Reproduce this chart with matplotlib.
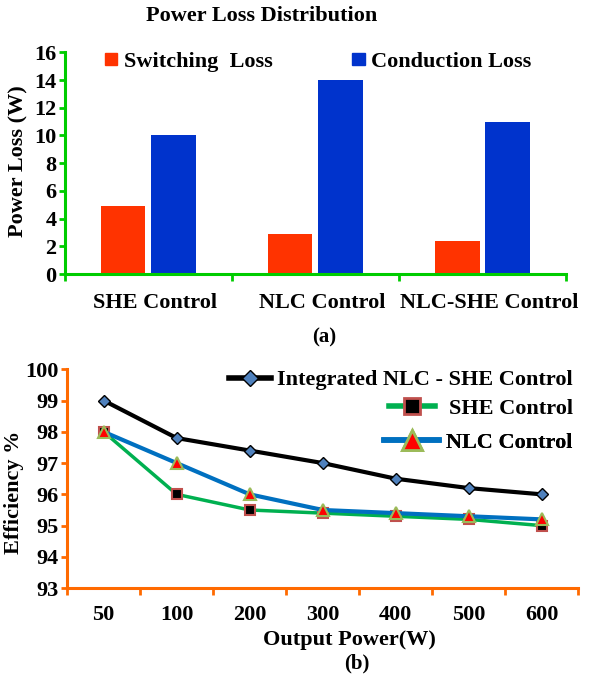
import matplotlib
matplotlib.use("Agg")
import matplotlib.pyplot as plt
import matplotlib.transforms as mtrans
from matplotlib.lines import Line2D
from matplotlib.patches import Patch
import numpy as np

plt.rcParams['font.family'] = ['Liberation Serif', 'DejaVu Serif']
plt.rcParams['font.weight'] = 'bold'

# Data for (a)
methods = ['SHE Control', 'NLC Control', 'NLC-SHE Control']
switching_loss = [4.9, 2.9, 2.4]
conduction_loss = [10, 14, 11]

# Data for (b)
power_labels = ['50', '100', '200', '300', '400', '500', '600']
eff_integrated = [99.0, 97.8, 97.4, 97.0, 96.5, 96.2, 96.0]
eff_she = [98.0, 96.0, 95.5, 95.4, 95.3, 95.2, 95.0]
eff_nlc = [98.0, 97.0, 96.0, 95.5, 95.4, 95.3, 95.2]

fig = plt.figure(figsize=(5.89, 6.8), dpi=100)

# ---------- (a) bar chart ----------
green = '#00cc00'
ax1 = fig.add_axes([0.110, 0.597, 0.851, 0.326])
x = np.arange(len(methods))
ax1.bar(x - 0.15, switching_loss, 0.265, color='#ff3300')
ax1.bar(x + 0.15, conduction_loss, 0.265, color='#0033cc')
ax1.set_xlim(-0.5, 2.5)
ax1.set_ylim(0, 16)
ax1.set_yticks(range(0, 17, 2))
ax1.set_xticks(x)
ax1.set_xticklabels(methods, fontsize=16, fontweight='bold')
ax1.set_xticks([-0.5, 0.5, 1.5, 2.5], minor=True)
ax1.tick_params(axis='x', which='major', length=0, pad=14)
ax1.tick_params(axis='x', which='minor', length=5, width=2, color=green)
ax1.tick_params(axis='y', length=4, width=2, color=green, labelsize=16, pad=2)
offset = mtrans.ScaledTranslation(7 / 100, 0, fig.dpi_scale_trans)
for lab in ax1.get_xticklabels():
    lab.set_transform(lab.get_transform() + offset)
for s in ['top', 'right']:
    ax1.spines[s].set_visible(False)
for s in ['left', 'bottom']:
    ax1.spines[s].set_color(green)
    ax1.spines[s].set_linewidth(2.2)
ax1.set_ylabel('Power Loss (W)', fontsize=16, fontweight='bold')
ax1.yaxis.set_label_coords(0.048, 0.763, transform=fig.transFigure)

leg_a = [Patch(color='#ff3300', label='Switching  Loss'),
         Patch(color='#0033cc', label='Conduction Loss')]
ax1.legend(handles=leg_a, loc='center left', bbox_to_anchor=(0.178, 0.909),
           bbox_transform=fig.transFigure, ncol=2, frameon=False,
           prop={'size': 16, 'weight': 'bold'}, handlelength=0.55,
           handleheight=0.5, handletextpad=0.3, columnspacing=3.6,
           borderpad=0, borderaxespad=0)

fig.text(0.445, 0.976, 'Power Loss Distribution', ha='center', va='center',
         fontsize=16, fontweight='bold')
fig.text(0.551, 0.503, '(a)', ha='center', va='center', fontsize=15,
         fontweight='bold')

# ---------- (b) efficiency chart ----------
orange = '#ff6a00'
ax2 = fig.add_axes([0.114, 0.135, 0.868, 0.322])
xp = np.arange(len(power_labels))
ax2.plot(xp, eff_integrated, color='black', lw=3, marker='D', ms=6,
         mfc='#4f81bd', mec='black', mew=1, zorder=5)
ax2.plot(xp, eff_she, color='#00b050', lw=2.5, marker='s', ms=7,
         mfc='black', mec='#c0504d', mew=1.5, zorder=3)
ax2.plot(xp, eff_nlc, color='#0070c0', lw=3, marker='^', ms=8,
         mfc='#ff0000', mec='#9bbb59', mew=1.5, zorder=4)
ax2.set_xlim(-0.5, 6.5)
ax2.set_ylim(93, 100)
ax2.set_yticks(range(93, 101))
ax2.set_xticks(xp)
ax2.set_xticklabels(power_labels, fontsize=16, fontweight='bold')
ax2.set_xticks(np.arange(-0.5, 7, 1), minor=True)
ax2.tick_params(axis='x', which='major', length=0, pad=12)
ax2.tick_params(axis='x', which='minor', length=5, width=2, color=orange)
ax2.tick_params(axis='y', length=4, width=2, color=orange, labelsize=16, pad=2)
for s in ['top', 'right']:
    ax2.spines[s].set_visible(False)
for s in ['left', 'bottom']:
    ax2.spines[s].set_color(orange)
    ax2.spines[s].set_linewidth(2.2)
ax2.set_ylabel('Efficiency %', fontsize=16, fontweight='bold')
ax2.yaxis.set_label_coords(0.040, 0.276, transform=fig.transFigure)
ax2.set_xlabel('Output Power(W)', fontsize=16, fontweight='bold')
ax2.xaxis.set_label_coords(0.594, 0.074, transform=fig.transFigure)

legend_specs = [
    (Line2D([], [], color='black', lw=4, marker='D', ms=8, mfc='#4f81bd',
            mec='black'), 'Integrated NLC - SHE Control', 0.441, 1.9, 0.25),
    (Line2D([], [], color='#00b050', lw=4, marker='s', ms=12, mfc='black',
            mec='#c0504d', mew=2), 'SHE Control', 0.399, 2.1, 0.6),
    (Line2D([], [], color='#0070c0', lw=4, marker='^', ms=15, mfc='#ff0000',
            mec='#9bbb59', mew=2), 'NLC Control', 0.349, 2.5, 0.3),
]
for handle, text, ypos, hlen, hpad in legend_specs:
    lg = ax2.legend(handles=[handle], labels=[text], loc='center right',
                    bbox_to_anchor=(0.972, ypos), bbox_transform=fig.transFigure,
                    frameon=False, prop={'size': 16, 'weight': 'bold'},
                    handlelength=hlen, handletextpad=hpad, borderpad=0,
                    borderaxespad=0)
    ax2.add_artist(lg)

fig.text(0.605, 0.025, '(b)', ha='center', va='center', fontsize=15,
         fontweight='bold')

fig.savefig('out.png', dpi=100)
